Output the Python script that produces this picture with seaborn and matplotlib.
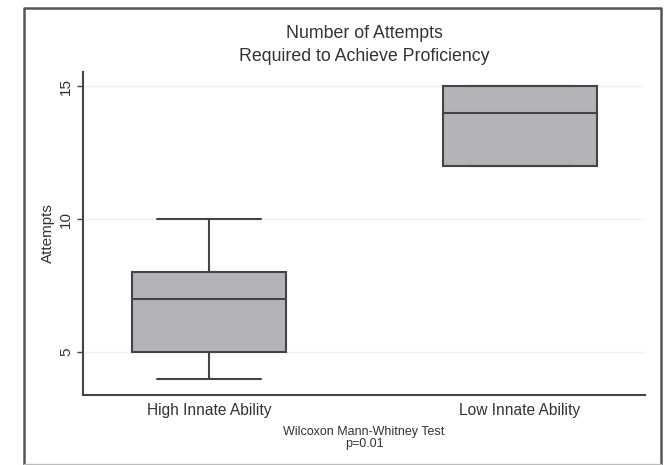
import matplotlib
matplotlib.use("Agg")
import matplotlib.pyplot as plt
import seaborn as sns
import pandas as pd
from matplotlib.lines import Line2D

# ---- data ----
categories = ["High Innate Ability", "Low Innate Ability"]
high_attempts = [4, 5, 5, 7, 8, 8, 10]
low_attempts = [12, 12, 14, 15, 15]
y_ticks = [5, 10, 15]
title_text = "Number of Attempts\nRequired to Achieve Proficiency"
y_label = "Attempts"
note_text = "Wilcoxon Mann-Whitney Test\np=0.01"

df = pd.DataFrame({
    "group": [categories[0]] * len(high_attempts) + [categories[1]] * len(low_attempts),
    "attempts": high_attempts + low_attempts,
})

sns.set_theme(style="white")
plt.rcParams["font.family"] = ["Liberation Sans", "DejaVu Sans"]

W, H = 664, 465
fig = plt.figure(figsize=(W / 100, H / 100), dpi=100)
ax = fig.add_axes([83 / W, 1 - 395 / H, (645 - 83) / W, (395 - 72) / H])

edge = "#444444"
sns.boxplot(data=df, x="group", y="attempts", order=categories, ax=ax,
            color="#b3b4b8", saturation=1, width=0.495, whis=(0, 100),
            linecolor=edge, linewidth=1.5, capwidths=0.334,
            showfliers=False)

ax.set_xlim(-0.405, 1.402)
ax.set_ylim(3.38, 15.53)
ax.set_yticks(y_ticks)
ax.set_yticklabels([str(t) for t in y_ticks], rotation=90, va="center",
                   fontsize=11, color="#333333")
ax.tick_params(axis="y", left=True, length=4, width=1, color=edge, pad=3)
ax.tick_params(axis="x", bottom=False, length=0, labelsize=11.2,
               labelcolor="#333333", pad=6)
ax.set_xlabel("")
ax.set_ylabel(y_label, fontsize=11, color="#333333", labelpad=3)

for t in y_ticks:
    ax.axhline(t, color="#f1f1f1", lw=1, zorder=0)

for s in ["top", "right"]:
    ax.spines[s].set_visible(False)
for s in ["left", "bottom"]:
    ax.spines[s].set_color(edge)
    ax.spines[s].set_linewidth(1.5)

fig.text((83 + 645) / 2 / W, 1 - 45 / H, title_text, ha="center", va="center",
         fontsize=12.8, color="#333333", linespacing=1.4)
fig.text((83 + 645) / 2 / W, 1 - 438 / H, note_text, ha="center", va="center",
         fontsize=9, color="#333333", linespacing=0.9)

# outer frame
x0, x1 = 24 / W, 661 / W
y0, y1 = 1 - 464 / H, 1 - 8 / H
fig.add_artist(Line2D([x0, x0, x1, x1], [y0, y1, y1, y0], transform=fig.transFigure,
                      color="#555555", lw=1.8))
fig.add_artist(Line2D([x0, x1], [y0, y0], transform=fig.transFigure,
                      color="#bbbbbb", lw=1.0))

fig.savefig("out.png", dpi=100)
